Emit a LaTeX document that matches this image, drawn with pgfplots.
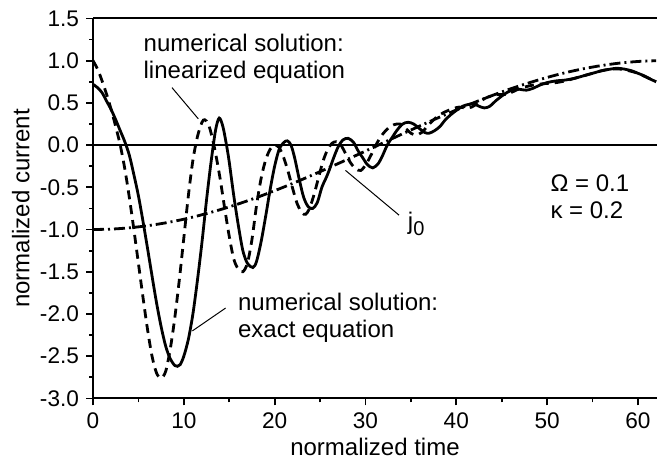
\documentclass[border=0pt]{standalone}
\usepackage{fontspec}
\setmainfont{Liberation Sans}
\usepackage{pgfplots}
\pgfplotsset{compat=1.18}
\begin{document}
\begin{tikzpicture}
\begin{axis}[
  at={(0,0)}, anchor=south west,
  scale only axis, width=282pt, height=190pt,
  xmin=0, xmax=62.1, ymin=-3, ymax=1.5,
  axis y line*=left,
  axis line style={-, line width=1pt},
  xtick={0,10,...,60}, ytick={-3,-2.5,...,1.5},
  minor x tick num=1, minor y tick num=1,
  tick align=outside, xtick pos=left, ytick pos=left,
  major tick length=3.5pt, minor tick length=2pt,
  every tick/.style={line width=0.9pt, black},
  tick label style={font=\fontsize{11.3}{13}\selectfont},
  /pgf/number format/assume math mode=true,
  y tick label style={/pgf/number format/fixed, /pgf/number format/fixed zerofill, /pgf/number format/precision=1},
  xlabel={normalized time}, ylabel={normalized current},
  label style={font=\fontsize{12}{14}\selectfont},
  xlabel style={at={(axis description cs:0.5,0)}, anchor=base, yshift=-28.6pt},
  ylabel style={at={(axis description cs:-0.128,0.5)}, anchor=center},
  clip=true,
]
\addplot[line width=0.9pt, black] coordinates {(0,0) (62.1,0)};
% j0 (dash-dot)
\addplot[line width=1.4pt, black, dash pattern=on 5.5pt off 2pt on 1pt off 2pt, smooth] coordinates {
(0,-1.000) (2,-0.995) (4,-0.980) (6,-0.955) (8,-0.921) (10,-0.878) (12,-0.825) (14,-0.765)
(16,-0.697) (18,-0.622) (20,-0.540) (22,-0.454) (24,-0.362) (26,-0.267) (28,-0.170) (30,-0.071)
(32,0.029) (34,0.129) (36,0.227) (38,0.323) (40,0.416) (42,0.505) (44,0.589) (46,0.667)
(48,0.737) (50,0.801) (52,0.857) (54,0.904) (56,0.942) (58,0.971) (60,0.990) (62,0.999)};
% linearized (dashed)
\addplot[line width=1.4pt, black, dash pattern=on 4.5pt off 3pt, smooth, tension=0.5] coordinates {
(0,1.0) (0.5,0.9) (1,0.76) (1.5,0.6) (2,0.42) (2.5,0.22) (3,0.0) (3.5,-0.28) (4,-0.62) (4.5,-1.0)
(5,-1.4) (5.5,-1.8) (6,-2.18) (6.5,-2.5) (7,-2.7) (7.5,-2.76) (8,-2.68) (8.5,-2.42) (9,-2.05)
(9.5,-1.6) (10,-1.1) (10.5,-0.6) (11,-0.18) (11.5,0.1) (12,0.27) (12.3,0.3) (12.7,0.25) (13.1,0.1)
(13.5,-0.1) (14,-0.4) (14.5,-0.75) (15,-1.08) (15.5,-1.35) (16,-1.47) (16.5,-1.5) (17,-1.4)
(17.5,-1.12) (18,-0.72) (18.5,-0.4) (19,-0.18) (19.5,-0.05) (20,0.0) (20.5,-0.03) (21,-0.15)
(21.5,-0.32) (22,-0.52) (22.5,-0.7) (23,-0.8) (23.4,-0.82) (23.8,-0.76) (24.3,-0.6) (24.8,-0.4)
(25.3,-0.2) (25.8,-0.06) (26.3,0.02) (26.8,0.04) (27.3,0.0) (27.8,-0.1) (28.3,-0.2) (28.9,-0.28)
(29.5,-0.3) (30.1,-0.22) (30.7,-0.1) (31.3,0.03) (31.9,0.13) (32.5,0.2) (33.1,0.24) (33.8,0.25)
(34.4,0.2) (35,0.14) (35.6,0.12) (36.2,0.15) (36.8,0.22) (37.5,0.3) (38.2,0.36) (38.9,0.4)
(39.6,0.43) (40.3,0.45) (41,0.44) (41.7,0.45) (42.4,0.5) (43.1,0.55) (43.8,0.58) (44.6,0.6)
(45.4,0.6) (46.2,0.63) (47,0.67) (48,0.7) (49,0.72) (50,0.73) (51,0.74) (52,0.76) (53,0.79)
(54,0.82) (55,0.85) (56,0.88) (57,0.9) (58,0.9) (59,0.88) (60,0.85) (61,0.8) (62,0.75)};
% exact (solid)
\addplot[line width=1.4pt, black, smooth, tension=0.5] coordinates {
(0,0.72) (0.5,0.68) (1,0.62) (1.5,0.52) (2,0.42) (2.5,0.3) (3,0.17) (3.5,0.04) (4,-0.12)
(4.5,-0.35) (5,-0.6) (5.5,-0.9) (6,-1.22) (6.5,-1.55) (7,-1.87) (7.5,-2.15) (8,-2.38) (8.5,-2.53)
(9,-2.61) (9.3,-2.62) (9.6,-2.6) (10,-2.5) (10.5,-2.3) (11,-2.0) (11.5,-1.6) (12,-1.15) (12.5,-0.65)
(13,-0.2) (13.5,0.18) (13.9,0.32) (14.3,0.22) (14.7,0.0) (15,-0.2) (15.5,-0.6) (16,-0.95)
(16.5,-1.25) (17,-1.4) (17.6,-1.45) (18,-1.38) (18.5,-1.15) (19,-0.85) (19.5,-0.53) (20,-0.25)
(20.5,-0.05) (21,0.03) (21.4,0.05) (21.8,0.0) (22.2,-0.15) (22.7,-0.4) (23.2,-0.62) (23.7,-0.73)
(24.2,-0.75) (24.7,-0.68) (25.2,-0.5) (25.7,-0.38) (26,-0.3) (26.5,-0.15) (27,-0.02) (27.5,0.06)
(28.1,0.08) (28.7,0.03) (29.2,-0.07) (29.7,-0.15) (30.2,-0.23) (30.8,-0.27) (31.4,-0.22) (31.9,-0.12)
(32.4,0.0) (33,0.1) (33.5,0.18) (34.1,0.25) (34.7,0.27) (35.3,0.25) (35.9,0.2) (36.5,0.15) (37,0.14)
(37.6,0.17) (38.2,0.22) (38.8,0.3) (39.4,0.36) (40,0.41) (40.7,0.46) (41.3,0.48) (41.9,0.49)
(42.5,0.46) (43.1,0.44) (43.7,0.46) (44.3,0.52) (45,0.58) (45.7,0.63) (46.4,0.66) (47,0.66)
(47.7,0.65) (48.4,0.67) (49.2,0.71) (50,0.74) (51,0.76) (52,0.77) (53,0.79) (54,0.82) (55,0.85)
(56,0.88) (57,0.9) (57.7,0.91) (58.5,0.9) (59.3,0.88) (60,0.85) (60.7,0.82) (61.4,0.78) (62,0.75)};
% annotations
\node[anchor=west, align=left, font=\fontsize{12}{13.5}\selectfont] at (axis cs:4.8,1.02) {numerical solution:\\linearized equation};
\draw[line width=0.5pt] (axis cs:8.7,0.68) -- (axis cs:11.6,0.31);
\node[anchor=west, align=left, font=\fontsize{12}{13.5}\selectfont] at (axis cs:15.2,-2.04) {numerical solution:\\exact equation};
\draw[line width=0.5pt] (axis cs:14.6,-1.93) -- (axis cs:10.95,-2.2);
\node[anchor=west, font=\fontsize{12}{13.5}\selectfont] at (axis cs:33.9,-0.93) {j\raisebox{-0.45ex}{\fontsize{10}{10}\selectfont 0}};
\draw[line width=0.5pt] (axis cs:33.7,-0.83) -- (axis cs:27.8,-0.3);
\node[anchor=west, align=left, font=\fontsize{12}{13.5}\selectfont] at (axis cs:49.6,-0.61) {Ω = 0.1\\κ = 0.2};
\end{axis}
\pgfresetboundingbox
\path (-46.5pt,-31.4pt) rectangle (282pt,199.2pt);
\end{tikzpicture}
\end{document}
